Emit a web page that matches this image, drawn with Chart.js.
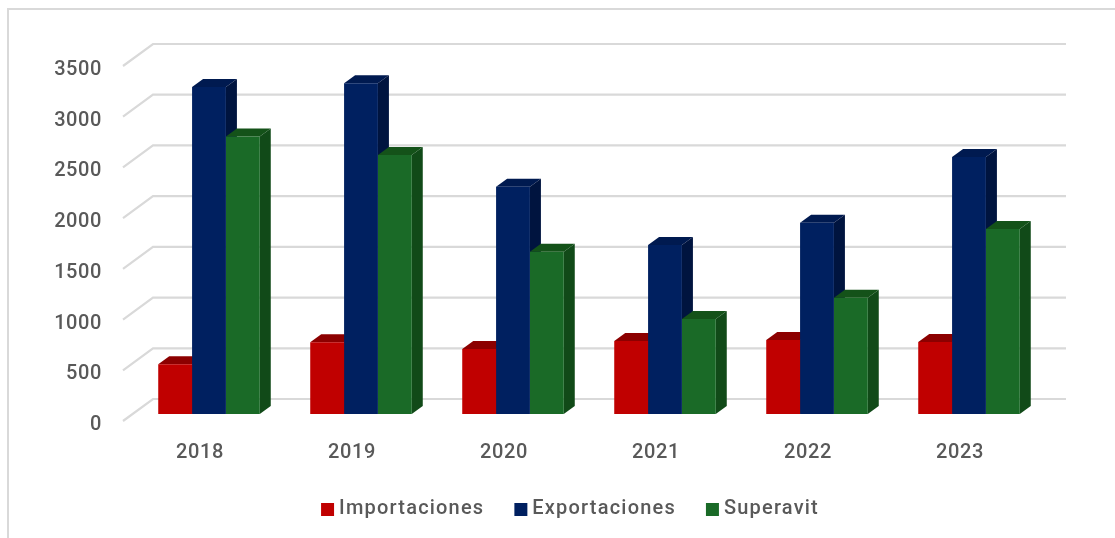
<!DOCTYPE html>
<html>
<head>
<meta charset="utf-8">
<style>html,body{margin:0;padding:0;background:#fff}canvas{display:block}</style>
<script src="https://cdn.jsdelivr.net/npm/chart.js@4"></script>
</head>
<body>
<canvas id="c" width="1115" height="538"></canvas>
<script>
const categories = ['2018','2019','2020','2021','2022','2023'];
const importaciones = [490,707,640,720,730,710];
const exportaciones = [3225,3260,2240,1665,1885,2535];
const superavit = [2735,2554,1600,937,1145,1825];
const yMax = 3500;
const yStep = 500;

const frontColors = ['#C00000','#002060','#1A6A27'];
const topColors = ['#8C0000','#001A50','#145219'];
const sideColors = ['#8C0000','#00143F','#114A18'];
const gridColor = '#D9D9D9';
const textColor = '#595959';
const DX = 11, DY = 8;
const TICK_SPACING = '0.6px';
const LEGEND_SPACING = '1.2px';

const frame = {
  id:'frame',
  beforeLayout(chart){ chart.ctx.letterSpacing = LEGEND_SPACING; },
  afterLayout(chart){
    const leg = chart.legend;
    leg.left = 95; leg.right = 1045;
    if (!leg._wrapped) {
      const orig = leg.draw;
      leg.draw = function(){
        chart.ctx.letterSpacing = LEGEND_SPACING;
        orig.call(this);
        chart.ctx.letterSpacing = TICK_SPACING;
      };
      leg._wrapped = true;
    }
  },
  beforeDraw(chart){
    const c = chart.ctx;
    c.letterSpacing = TICK_SPACING;
    c.save();
    c.strokeStyle = gridColor; c.lineWidth = 2;
    c.beginPath(); c.moveTo(8,538); c.lineTo(8,9); c.lineTo(1115,9); c.stroke();
    const {left,right} = chart.chartArea;
    const y = chart.scales.y;
    c.lineWidth = 2.2;
    for (let v = 0; v <= yMax; v += yStep) {
      const p = y.getPixelForValue(v);
      c.beginPath();
      c.moveTo(left-10,p+7);
      c.lineTo(left+20,p-15);
      c.lineTo(right+21,p-15);
      c.stroke();
    }
    c.restore();
  }
};
const depth = {
  id:'depth',
  beforeDatasetsDraw(chart){
    const c = chart.ctx;
    c.save();
    chart.data.datasets.forEach((d,i)=>{
      chart.getDatasetMeta(i).data.forEach(b=>{
        const l = b.x-b.width/2, r = b.x+b.width/2, t = b.y, bt = b.base;
        c.fillStyle = topColors[i];
        c.beginPath(); c.moveTo(l,t); c.lineTo(l+DX,t-DY); c.lineTo(r+DX,t-DY); c.lineTo(r,t); c.closePath(); c.fill();
        c.fillStyle = sideColors[i];
        c.beginPath(); c.moveTo(r,t); c.lineTo(r+DX,t-DY); c.lineTo(r+DX,bt-DY); c.lineTo(r,bt); c.closePath(); c.fill();
      });
    });
    c.restore();
  }
};
function swatch(color){
  const s = document.createElement('canvas');
  s.width = 26; s.height = 13;
  const x = s.getContext('2d');
  x.fillStyle = color; x.fillRect(9,0,13,13);
  return s;
}
const font = {family:'Roboto', size:20, weight:'500'};
new Chart(document.getElementById('c'),{
  type:'bar',
  data:{labels:categories,datasets:[
    {label:'Importaciones',data:importaciones,backgroundColor:frontColors[0]},
    {label:'Exportaciones',data:exportaciones,backgroundColor:frontColors[1]},
    {label:'Superavit',data:superavit,backgroundColor:frontColors[2]}
  ]},
  options:{
    responsive:false,animation:false,
    layout:{padding:{left:0,right:70,top:59,bottom:9}},
    datasets:{bar:{categoryPercentage:0.668,barPercentage:1,borderWidth:0}},
    plugins:{
      tooltip:{enabled:false},
      title:{display:false},
      legend:{position:'bottom',labels:{
        font,color:textColor,padding:30,boxHeight:13,usePointStyle:true,pointStyleWidth:8,
        generateLabels(chart){
          return chart.data.datasets.map((d,i)=>({text:d.label,fillStyle:frontColors[i],strokeStyle:frontColors[i],lineWidth:0,datasetIndex:i,pointStyle:swatch(frontColors[i]),fontColor:textColor}));
        }
      }}
    },
    scales:{
      x:{
        grid:{display:false,drawTicks:false},border:{display:false},
        ticks:{font,color:textColor,padding:27,labelOffset:-9,maxRotation:0},
        afterFit(s){s.height=55;}
      },
      y:{
        min:0,max:yMax,
        grid:{display:false,drawTicks:false},border:{display:false},
        ticks:{font,color:textColor,stepSize:yStep,padding:31,labelOffset:11,callback:v=>String(v)},
        afterFit(s){s.width=133;}
      }
    }
  },
  plugins:[frame,depth]
});
</script>
</body>
</html>
